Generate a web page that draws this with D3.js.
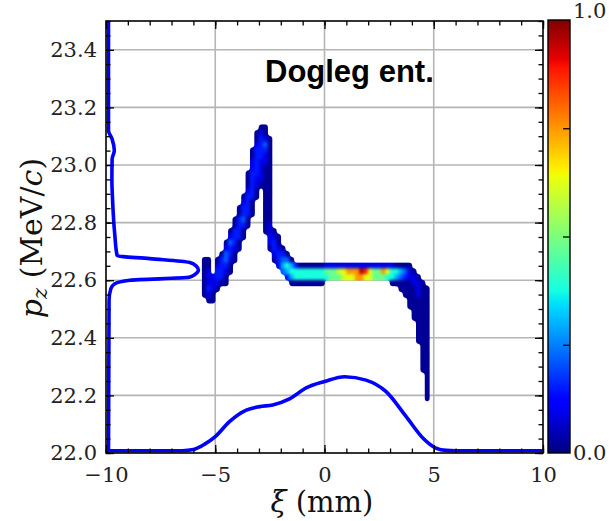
<!DOCTYPE html>
<html><head><meta charset="utf-8">
<script src="https://cdn.jsdelivr.net/npm/d3@7"></script>
<style>body{margin:0;background:#fff}svg{display:block}</style>
</head><body>
<svg id="c" width="609" height="521"></svg>
<script>
// ---------------- data ----------------
const titleText = "Dogleg ent.";
const xMajorTicks = [-10, -5, 0, 5, 10];
const xTickLabels = ["\u221210", "\u22125", "0", "5", "10"];
const xMinorTicks = d3.range(-10, 10.01, 1);
const yMajorTicks = [22.0, 22.2, 22.4, 22.6, 22.8, 23.0, 23.2, 23.4];
const yTickLabels = ["22.0", "22.2", "22.4", "22.6", "22.8", "23.0", "23.2", "23.4"];
const yMinorTicks = d3.range(22.0, 23.501, 0.05);
const cbMinorTicks = [0.25, 0.5, 0.75];
const cbLabelTicks = [0, 1];
const cbTickLabels = ["0.0", "1.0"];

// 2D histogram: bins of 0.2 mm (xi) by 0.02 MeV/c (pz); row 0 is the top bin (23.16 .. 23.14)
const binX0 = -5.8, binDX = 0.2, binY0 = 23.16, binDY = 0.02;
const levelChars = "123456789ab";
const levelValues = [0.02, 0.09, 0.15, 0.22, 0.30, 0.38, 0.48, 0.62, 0.75, 0.87, 0.95];
const densityRows = [
  [],
  [[14, "11"]],
  [[13, "121"]],
  [[13, "1321"]],
  [[13, "2341"]],
  [[12, "13331"]],
  [[12, "13321"]],
  [[12, "23221"]],
  [[12, "23211"]],
  [[11, "133211"]],
  [[11, "132211"]],
  [[11, "132111"]],
  [[11, "231"], [15, "11"]],
  [[10, "1331"], [15, "11"]],
  [[10, "231"], [15, "11"]],
  [[9, "1331"], [15, "11"]],
  [[9, "1331"], [15, "11"]],
  [[8, "1341"], [15, "11"]],
  [[8, "1331"], [15, "12"]],
  [[7, "1331"], [15, "121"]],
  [[7, "2331"], [16, "221"]],
  [[6, "1431"], [16, "231"]],
  [[6, "2321"], [16, "1321"]],
  [[5, "1431"], [17, "2331"]],
  [[1, "11"], [4, "13421"], [17, "13441"]],
  [[1, "11"], [4, "2331"], [18, "25653" + "111111" + "2222222222222222" + "1111"]],
  [[1, "12"], [4, "3321"], [19, "45" + "66666666" + "777" + "88" + "999" + "ba" + "8" + "77" + "98" + "66" + "5421"]],
  [[1, "122331"], [20, "35" + "66666666" + "777" + "88" + "8998" + "8" + "777" + "66" + "54322" + "1"]],
  [[1, "122211"], [21, "11111111"], [44, "11111221"]],
  [[1, "1321"], [46, "1111211"]],
  [[1, "121"], [47, "111211"]],
  [[2, "11"], [48, "11111"]],
  [[48, "11111"]],
  [[49, "1111"]],
  [[49, "1111"]],
  [[50, "111"]],
  [[50, "111"]],
  [[50, "111"]],
  [[50, "111"]],
  [[51, "11"]],
  [[51, "11"]],
  [[51, "11"]],
  [[51, "11"]],
  [[51, "11"]],
  [[52, "1"]],
  [[52, "1"]],
  [[52, "1"]],
  [[52, "1"]],
  [[52, "1"]]
];

// projection of the distribution on xi (drawn at the bottom, in pz units)
const xProjXi = [-10, -6.5, -6.0, -5.5, -5.0, -4.35, -3.58, -2.97, -2.37, -1.6, -0.84, 0, 0.92, 1.9, 2.82, 3.74, 4.5, 5.1, 5.57, 6.0, 10];
const xProjPz = [22.008, 22.008, 22.012, 22.03, 22.057, 22.109, 22.149, 22.161, 22.167, 22.188, 22.226, 22.248, 22.265, 22.253, 22.213, 22.126, 22.052, 22.017, 22.009, 22.008, 22.008];
// projection on pz (drawn on the left, in xi units)
const yProjPz = [23.5, 23.12, 23.09, 23.05, 23.02, 22.95, 22.88, 22.76, 22.685, 22.675, 22.662, 22.65, 22.635, 22.62, 22.61, 22.60, 22.588, 22.57, 22.53, 22.0];
const yProjXi = [-9.886, -9.886, -9.72, -9.62, -9.72, -9.73, -9.70, -9.60, -9.49, -8.0, -6.2, -5.88, -5.77, -5.93, -6.2, -8.9, -9.6, -9.78, -9.86, -9.886];

// ---------------- drawing ----------------
const svg = d3.select("#c");
const L = 106, R = 543, T = 21, B = 453;
const x = d3.scaleLinear().domain([-10, 10]).range([L, R]);
const y = d3.scaleLinear().domain([22, 23.5]).range([B, T]);
const cb = d3.scaleLinear().domain([0, 1]).range([453, 20]);
const cbL = 548, cbR = 570;

const jetR = d3.scaleLinear().domain([0, 0.35, 0.66, 0.89, 1]).range([0, 0, 1, 1, 0.5]).clamp(true);
const jetG = d3.scaleLinear().domain([0, 0.125, 0.375, 0.64, 0.91, 1]).range([0, 0, 1, 1, 0, 0]).clamp(true);
const jetB = d3.scaleLinear().domain([0, 0.11, 0.34, 0.65, 1]).range([0.5, 1, 1, 0, 0]).clamp(true);
const jet = v => d3.rgb(jetR(v) * 255, jetG(v) * 255, jetB(v) * 255).formatHex();

const defs = svg.append("defs");
defs.append("clipPath").attr("id", "clip").append("rect")
  .attr("x", L).attr("y", T).attr("width", R - L).attr("height", B - T);
const flt = defs.append("filter").attr("id", "smooth")
  .attr("filterUnits", "userSpaceOnUse").attr("x", 0).attr("y", 0).attr("width", 609).attr("height", 521)
  .attr("color-interpolation-filters", "sRGB");
flt.append("feGaussianBlur").attr("stdDeviation", 1.6);
flt.append("feComponentTransfer").append("feFuncA").attr("type", "linear").attr("slope", 4).attr("intercept", -1.5);

const grad = defs.append("linearGradient").attr("id", "jetgrad")
  .attr("x1", 0).attr("y1", 1).attr("x2", 0).attr("y2", 0);
d3.range(0, 1.0001, 0.01).forEach(t => grad.append("stop").attr("offset", t).attr("stop-color", jet(t)));

// grid
const gridColor = "#b5b5b5";
svg.append("g").selectAll("line").data(xMajorTicks.slice(1, -1)).join("line")
  .attr("x1", d => x(d)).attr("x2", d => x(d)).attr("y1", T).attr("y2", B)
  .attr("stroke", gridColor).attr("stroke-width", 1.6);
svg.append("g").selectAll("line").data(yMajorTicks.slice(1)).join("line")
  .attr("x1", L).attr("x2", R).attr("y1", d => y(d)).attr("y2", d => y(d))
  .attr("stroke", gridColor).attr("stroke-width", 1.6);

// heatmap cells
const cells = [];
densityRows.forEach((segs, j) => {
  segs.forEach(([c0, str]) => {
    for (let k = 0; k < str.length; k++) {
      const c = c0 + k;
      cells.push({
        xa: binX0 + c * binDX, xb: binX0 + (c + 1) * binDX,
        ya: binY0 - (j + 1) * binDY, yb: binY0 - j * binDY,
        v: levelValues[levelChars.indexOf(str[k])]
      });
    }
  });
});
svg.append("g").attr("filter", "url(#smooth)").selectAll("rect").data(cells).join("rect")
  .attr("x", d => x(d.xa) - 0.25).attr("y", d => y(d.yb) - 0.25)
  .attr("width", d => x(d.xb) - x(d.xa) + 0.5).attr("height", d => y(d.ya) - y(d.yb) + 0.5)
  .attr("fill", d => jet(d.v));

// projections
const gLines = svg.append("g").attr("clip-path", "url(#clip)");
gLines.append("path")
  .attr("d", d3.line().x(d => x(d[0])).y(d => y(d[1])).curve(d3.curveMonotoneX)(xProjXi.map((v, i) => [v, xProjPz[i]])))
  .attr("fill", "none").attr("stroke", "#0000ff").attr("stroke-width", 3.6).attr("stroke-linejoin", "round");
gLines.append("path")
  .attr("d", d3.line().x(d => x(d[0])).y(d => y(d[1])).curve(d3.curveMonotoneY)(yProjPz.map((v, i) => [yProjXi[i], v])))
  .attr("fill", "none").attr("stroke", "#0000ff").attr("stroke-width", 3.6).attr("stroke-linejoin", "round");

// axes
const tickFont = "DejaVu Serif, serif";
function styleAxis(g) {
  g.select(".domain").remove();
  g.selectAll(".tick line").attr("stroke", "#000").attr("stroke-width", 1.3);
  g.selectAll(".tick text").attr("fill", "#222").attr("font-family", tickFont).attr("font-size", 21);
}
const major = 8, minor = 4.5;
svg.append("g").attr("transform", `translate(0,${B})`)
  .call(d3.axisBottom(x).tickValues(xMinorTicks).tickSize(-minor).tickFormat("")).call(styleAxis);
svg.append("g").attr("transform", `translate(0,${B})`)
  .call(d3.axisBottom(x).tickValues(xMajorTicks).tickSize(-major).tickPadding(14)
    .tickFormat((d, i) => xTickLabels[i])).call(styleAxis);
svg.append("g").attr("transform", `translate(0,${T})`)
  .call(d3.axisTop(x).tickValues(xMinorTicks).tickSize(-minor).tickFormat("")).call(styleAxis);
svg.append("g").attr("transform", `translate(0,${T})`)
  .call(d3.axisTop(x).tickValues(xMajorTicks).tickSize(-major).tickFormat("")).call(styleAxis);
svg.append("g").attr("transform", `translate(${L},0)`)
  .call(d3.axisLeft(y).tickValues(yMinorTicks).tickSize(-minor).tickFormat("")).call(styleAxis);
svg.append("g").attr("transform", `translate(${L},0)`)
  .call(d3.axisLeft(y).tickValues(yMajorTicks).tickSize(-major).tickPadding(9)
    .tickFormat((d, i) => yTickLabels[i])).call(styleAxis);
svg.append("g").attr("transform", `translate(${R},0)`)
  .call(d3.axisRight(y).tickValues(yMinorTicks).tickSize(-minor).tickFormat("")).call(styleAxis);
svg.append("g").attr("transform", `translate(${R},0)`)
  .call(d3.axisRight(y).tickValues(yMajorTicks).tickSize(-major).tickFormat("")).call(styleAxis);

// frame
svg.append("rect").attr("x", L).attr("y", T).attr("width", R - L).attr("height", B - T)
  .attr("fill", "none").attr("stroke", "#000").attr("stroke-width", 1.6);

// colorbar
svg.append("rect").attr("x", cbL).attr("y", cb(1)).attr("width", cbR - cbL).attr("height", cb(0) - cb(1))
  .attr("fill", "url(#jetgrad)");
svg.append("g").attr("transform", `translate(${cbR},0)`)
  .call(d3.axisRight(cb).tickValues(cbMinorTicks).tickSize(-7).tickFormat("")).call(styleAxis);
const cbAx = svg.append("g").attr("transform", `translate(${cbR},0)`)
  .call(d3.axisRight(cb).tickValues(cbLabelTicks).tickSize(0).tickPadding(3)
    .tickFormat((d, i) => cbTickLabels[i])).call(styleAxis);
cbAx.selectAll(".tick text").filter(d => d === 1).attr("dy", "-0.1em");
svg.append("rect").attr("x", cbL).attr("y", cb(1)).attr("width", cbR - cbL).attr("height", cb(0) - cb(1))
  .attr("fill", "none").attr("stroke", "#000").attr("stroke-width", 1.4);

// title
svg.append("text").attr("x", 265).attr("y", 82).text(titleText)
  .attr("font-family", "Liberation Sans, Arial, sans-serif").attr("font-weight", "bold").attr("font-size", 31).attr("fill", "#000");

// axis labels
const xl = svg.append("text").attr("x", 322).attr("y", 512).attr("text-anchor", "middle")
  .attr("font-family", tickFont).attr("font-size", 29).attr("fill", "#111");
xl.append("tspan").attr("font-style", "italic").text("\u03BE");
xl.append("tspan").text(" (mm)");

const yl = svg.append("text").attr("transform", "translate(42,238) rotate(-90)").attr("text-anchor", "middle")
  .attr("font-family", tickFont).attr("font-size", 30).attr("fill", "#111");
yl.append("tspan").attr("font-style", "italic").text("p");
yl.append("tspan").attr("font-style", "italic").attr("font-size", 21).attr("baseline-shift", "-0.25em").text("z");
yl.append("tspan").text(" (MeV/");
yl.append("tspan").attr("font-style", "italic").text("c");
yl.append("tspan").text(")");
</script>
</body></html>
